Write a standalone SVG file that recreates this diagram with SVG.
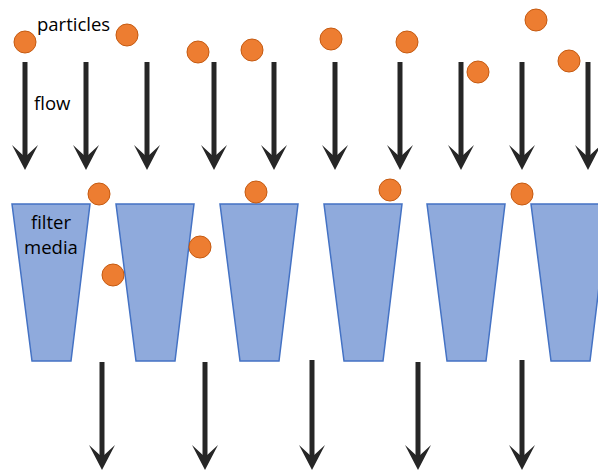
<svg xmlns="http://www.w3.org/2000/svg" width="598" height="470" viewBox="0 0 598 470">
<defs>
<style>
.media{fill:#8FAADC;stroke:#4472C4;stroke-width:1.5}
.p{fill:#ED7D31;stroke:#C55A11;stroke-width:1}
.shaft{stroke:#262626;stroke-width:5;fill:none}
.head{fill:#262626}
text{font-family:"Open Sans","Liberation Sans",sans-serif;font-size:18.5px;fill:#000}
</style>
<path id="ahead" class="head" d="M-13,-25 L0,0 L13,-25 L0,-13 Z"/>
</defs>
<rect width="598" height="470" fill="#fff"/>
<g id="filters">
<polygon id="m1" class="media" points="12,204 90,204 71,361 32,361"/>
<polygon id="m2" class="media" points="116,204 194,204 175,361 136,361"/>
<polygon id="m3" class="media" points="220,204 298,204 279,361 240,361"/>
<polygon id="m4" class="media" points="324,204 402,204 383,361 344,361"/>
<polygon id="m5" class="media" points="427,204 505,204 486,361 447,361"/>
<polygon id="m6" class="media" points="531,204 609,204 590,361 551,361"/>
</g>
<g id="connectors">
<g id="top-arrows">
<line class="shaft" x1="25" y1="62" x2="25" y2="160"/><use href="#ahead" x="25" y="170"/>
<line class="shaft" x1="86" y1="62" x2="86" y2="160"/><use href="#ahead" x="86" y="170"/>
<line class="shaft" x1="147" y1="62" x2="147" y2="160"/><use href="#ahead" x="147" y="170"/>
<line class="shaft" x1="214" y1="62" x2="214" y2="160"/><use href="#ahead" x="214" y="170"/>
<line class="shaft" x1="274" y1="62" x2="274" y2="160"/><use href="#ahead" x="274" y="170"/>
<line class="shaft" x1="335" y1="62" x2="335" y2="160"/><use href="#ahead" x="335" y="170"/>
<line class="shaft" x1="400" y1="62" x2="400" y2="160"/><use href="#ahead" x="400" y="170"/>
<line class="shaft" x1="461" y1="62" x2="461" y2="160"/><use href="#ahead" x="461" y="170"/>
<line class="shaft" x1="522" y1="62" x2="522" y2="160"/><use href="#ahead" x="522" y="170"/>
<line class="shaft" x1="588" y1="62" x2="588" y2="160"/><use href="#ahead" x="588" y="170"/>
</g>
<g id="bottom-arrows">
<line class="shaft" x1="102" y1="362" x2="102" y2="460"/><use href="#ahead" x="102" y="470"/>
<line class="shaft" x1="205" y1="362" x2="205" y2="460"/><use href="#ahead" x="205" y="470"/>
<line class="shaft" x1="312" y1="360" x2="312" y2="460"/><use href="#ahead" x="312" y="470"/>
<line class="shaft" x1="418" y1="362" x2="418" y2="460"/><use href="#ahead" x="418" y="470"/>
<line class="shaft" x1="522" y1="360" x2="522" y2="460"/><use href="#ahead" x="522" y="470"/>
</g>
</g>
<g id="particles">
<circle class="p" cx="25" cy="42" r="11"/>
<circle class="p" cx="127" cy="35" r="11"/>
<circle class="p" cx="198" cy="52" r="11"/>
<circle class="p" cx="252" cy="50" r="11"/>
<circle class="p" cx="331" cy="39" r="11"/>
<circle class="p" cx="407" cy="42" r="11"/>
<circle class="p" cx="478" cy="72" r="11"/>
<circle class="p" cx="536" cy="20" r="11"/>
<circle class="p" cx="569" cy="61" r="11"/>
<circle class="p" cx="99" cy="194" r="11"/>
<circle class="p" cx="113" cy="275" r="11"/>
<circle class="p" cx="200" cy="247" r="11"/>
<circle class="p" cx="256" cy="192" r="11"/>
<circle class="p" cx="390" cy="190" r="11"/>
<circle class="p" cx="522" cy="194" r="11"/>
</g>
<g id="labels">
<text id="t-particles" x="37" y="31">particles</text>
<text id="t-flow" x="34" y="110">flow</text>
<text id="t-media" text-anchor="middle"><tspan x="51" y="229">filter</tspan><tspan x="51" y="254">media</tspan></text>
</g>
</svg>
